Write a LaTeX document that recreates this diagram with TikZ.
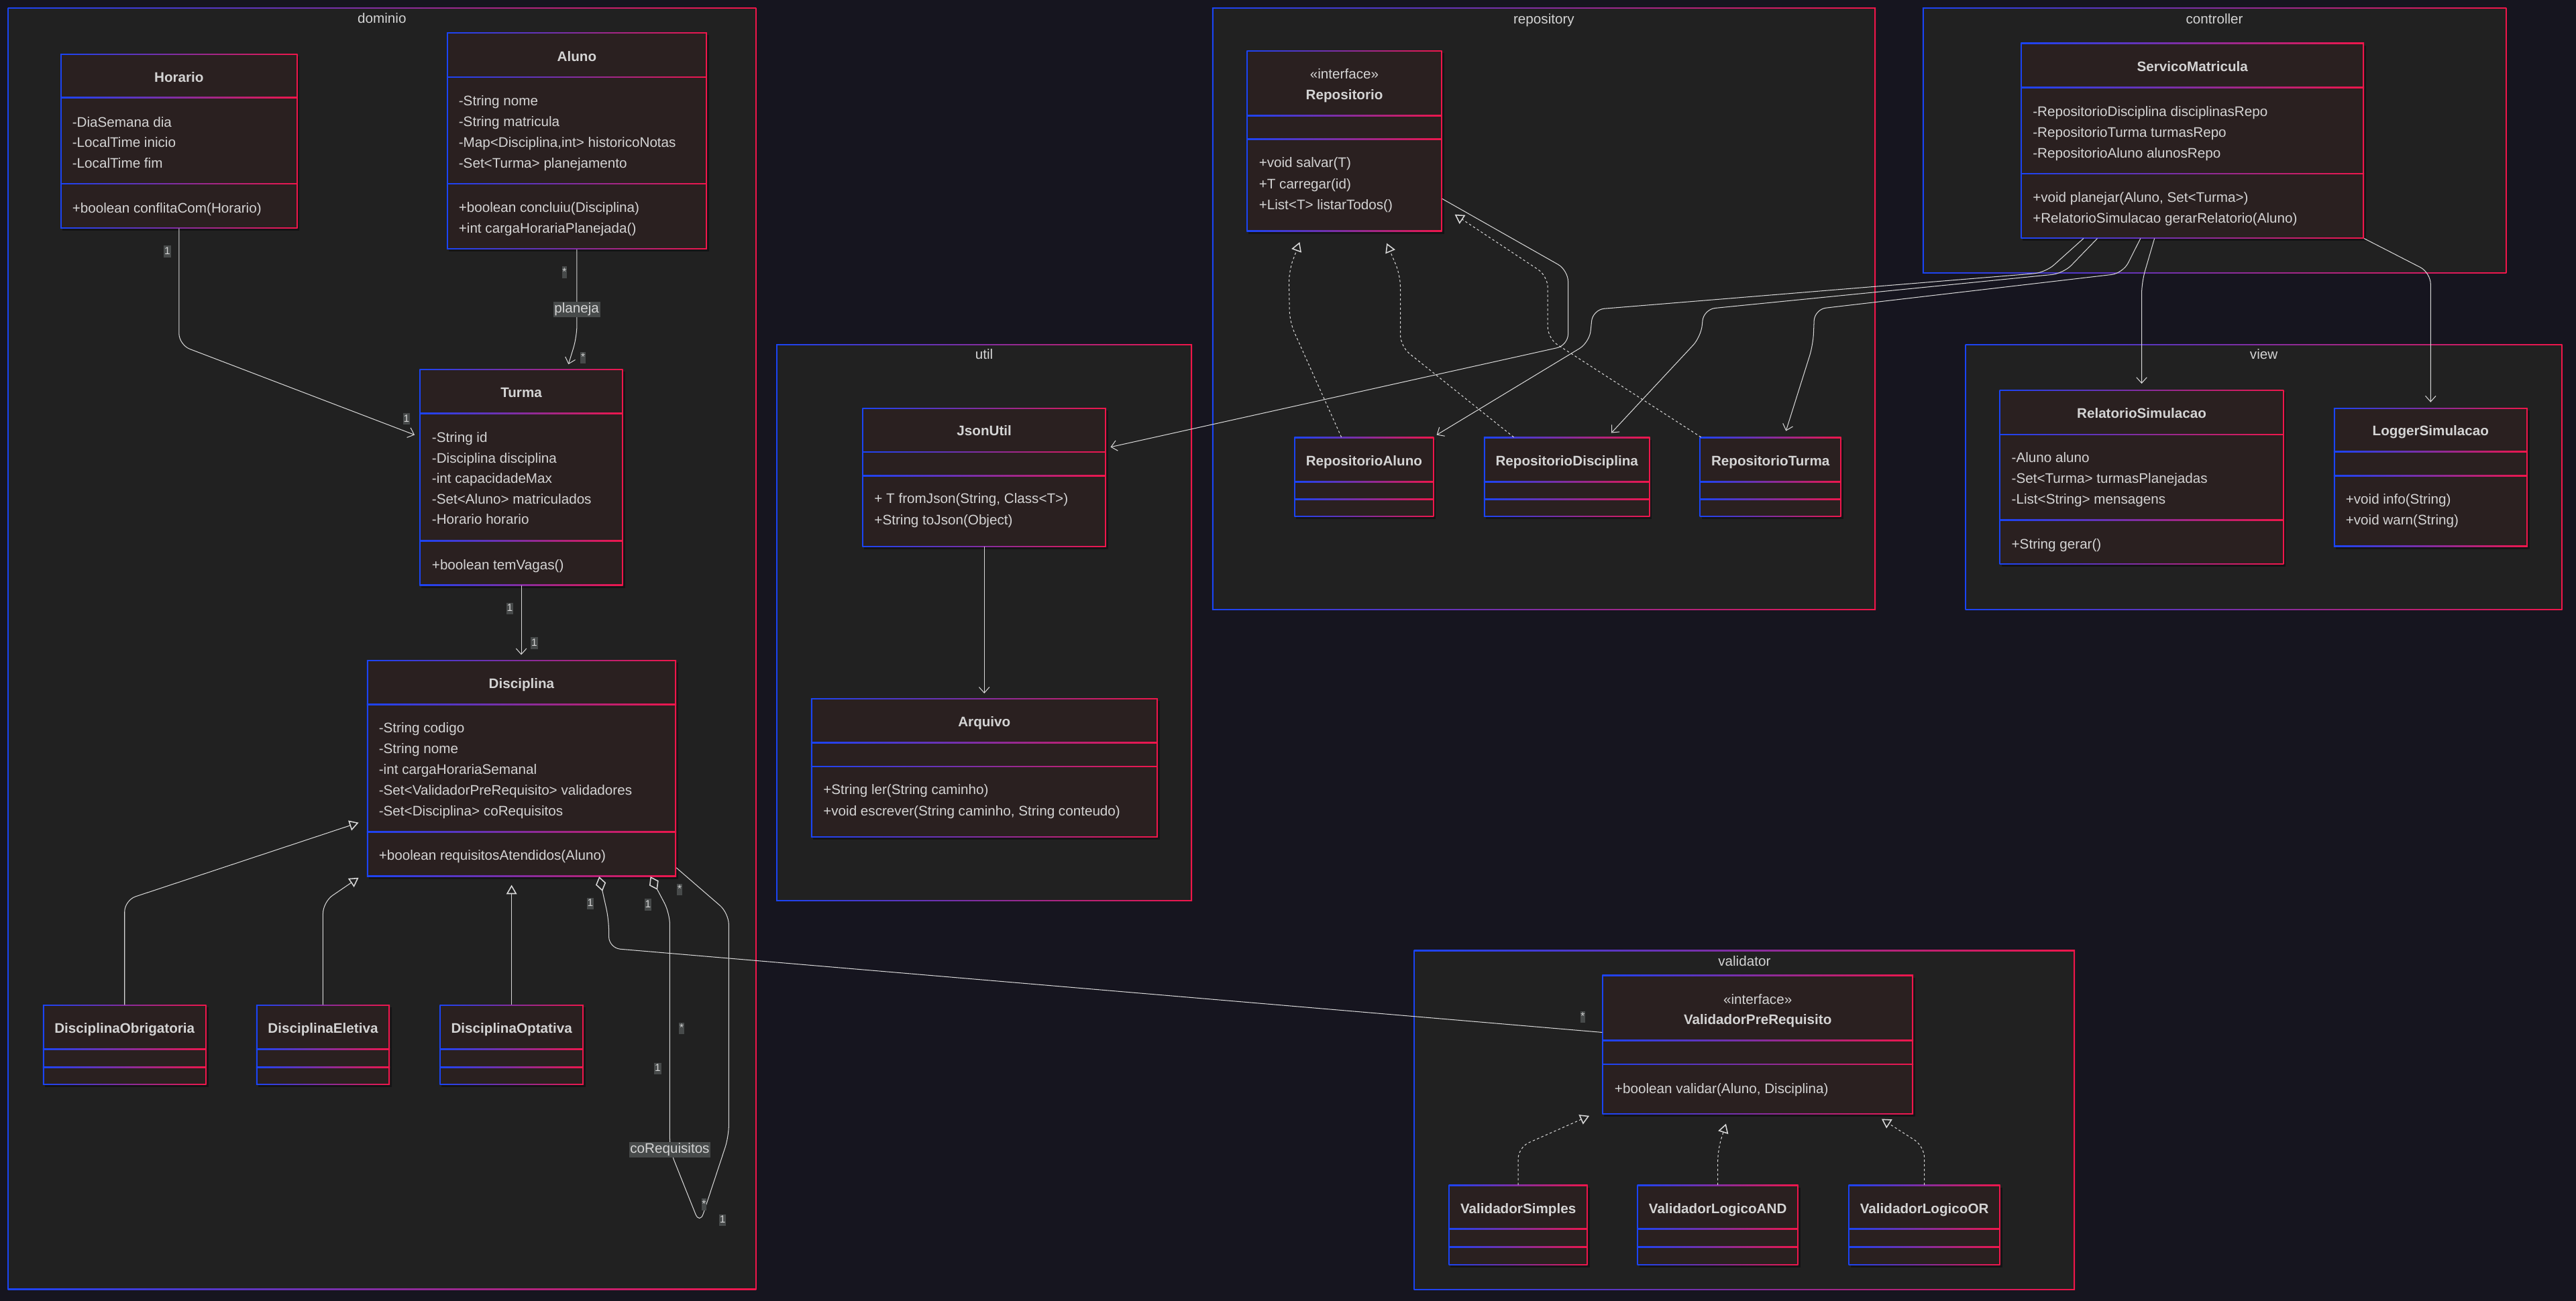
\documentclass[tikz,border=0pt]{standalone}
\usepackage{fontspec}
\setmainfont{Liberation Sans}
\usetikzlibrary{arrows.meta,calc,fit}

\definecolor{canvas}{HTML}{16151F}
\definecolor{pkgfill}{HTML}{212121}
\definecolor{boxfill}{HTML}{2A2020}
\definecolor{gblue}{HTML}{1A44F5}
\definecolor{gred}{HTML}{F0164A}
\definecolor{ink}{HTML}{D4D4D4}
\definecolor{wire}{HTML}{D8D8D8}
\definecolor{tagbg}{HTML}{474A4A}

% border width in picture units
\newcommand\bw{0.7}

% frame whose border runs from blue (left) to red (right)
\newcommand\gradframe[5]{%
  \shade[left color=gblue,right color=gred] (#2,#3) rectangle (#4,#5);
  \fill[#1] ({#2+\bw},{#3+\bw}) rectangle ({#4-\bw},{#5-\bw});}

% class box: name, x1, y1, x2, y2, compartment separators
\newcommand\umlclass[6]{%
  \node[fit={(#2,#3) (#4,#5)}, inner sep=0pt, outer sep=0pt] (#1) {};
  \fill[black!60!canvas, opacity=0.5] ({#2+1.2},{#3+1.5}) rectangle ({#4+1.2},{#5+1.5});
  \gradframe{boxfill}{#2}{#3}{#4}{#5}
  \foreach \s in {#6} {\shade[left color=gblue,right color=gred] (#2,\s-0.35) rectangle (#4,\s+0.35);}}

% package frame: name, x1, y1, x2, y2, label baseline, label
\newcommand\umlpkg[7]{%
  \node[fit={(#2,#3) (#4,#5)}, inner sep=0pt, outer sep=0pt] (#1) {};
  \gradframe{pkgfill}{#2}{#3}{#4}{#5}
  \node[pkglabel] (#1-label) at (#1.north |- 0,#6) {#7};}

% member lines: name prefix, x, first line centre, line step, lines
\newcommand\memberlist[5]{%
  \foreach \m [count=\i] in {#5} {\node[member] (#1\i) at (#2,{#3+3+(\i-1)*#4}) {\m};}}

\begin{document}
\begin{tikzpicture}[x=0.05cm,y=-0.05cm,
  member/.style={anchor=base west, inner sep=0pt, text=ink, font=\fontsize{12}{14}\selectfont},
  ctitle/.style={anchor=base, inner sep=0pt, text=ink, font=\fontsize{12}{14}\selectfont\bfseries},
  stereo/.style={anchor=base, inner sep=0pt, text=ink, font=\fontsize{12}{14}\selectfont},
  pkglabel/.style={anchor=base, inner sep=0pt, text=ink, font=\fontsize{12}{14}\selectfont},
  wire/.style={draw=wire, line width=0.6pt, rounded corners=0.35cm},
  assoc/.style={wire, -{Straight Barb[length=5pt,width=9pt]}},
  inherit/.style={wire, -{Triangle[length=8pt,width=9pt,fill=pkgfill,line width=0.9pt]}},
  realize/.style={inherit, dash pattern=on 2pt off 2pt},
  aggr/.style={wire, {Diamond[length=13pt,width=9pt,fill=pkgfill,line width=0.9pt]}-},
  mult/.style={fill=tagbg, text=ink, inner sep=0.5pt, text height=7pt, text depth=2pt, font=\fontsize{9}{10}\selectfont},
  role/.style={fill=tagbg, text=ink, inner sep=1pt, font=\fontsize{12}{14}\selectfont}]

\fill[canvas] (0,0) rectangle (1568,792);
\useasboundingbox (0,0) rectangle (1568,792);

% ---------------- packages ----------------
\umlpkg{dominio}{4.7}{4.8}{460.3}{785.3}{14}{dominio}
\umlpkg{util}{472.5}{209.6}{725.6}{548.6}{218.7}{util}
\umlpkg{repository}{737.8}{4.8}{1141.7}{371.4}{14.3}{repository}
\umlpkg{controller}{1170.2}{4.8}{1525.7}{166.5}{14.3}{controller}
\umlpkg{view}{1196.2}{209.7}{1559.7}{371.4}{218.7}{view}
\umlpkg{validatorpkg}{860.6}{578.6}{1263}{785.4}{588.3}{validator}

% ---------------- dominio ----------------
\umlclass{horario}{36.8}{32.7}{181.1}{139.1}{59.5,111.9}
\node[ctitle] (horario-t) at (horario.north |- 0,50) {Horario};
\memberlist{horario-a}{43.9}{74.2}{12.55}{-DiaSemana dia,-LocalTime inicio,-LocalTime fim}
\memberlist{horario-m}{43.9}{126.6}{12.6}{+boolean conflitaCom(Horario)}

\umlclass{aluno}{272}{19.9}{430.3}{151.8}{47,111.9}
\node[ctitle] (aluno-t) at (aluno.north |- 0,37.4) {Aluno};
\memberlist{aluno-a}{279.1}{61.5}{12.63}{-String nome,-String matricula,{-Map<Disciplina,int> historicoNotas},-Set<Turma> planejamento}
\memberlist{aluno-m}{279.1}{126.3}{12.5}{+boolean concluiu(Disciplina),+int cargaHorariaPlanejada()}

\umlclass{turma}{255.4}{224.6}{379.2}{356.5}{251.6,329.3}
\node[ctitle] (turma-t) at (turma.north |- 0,242) {Turma};
\memberlist{turma-a}{262.8}{266.3}{12.5}{-String id,-Disciplina disciplina,-int capacidadeMax,-Set<Aluno> matriculados,-Horario horario}
\memberlist{turma-m}{262.8}{343.7}{12.5}{+boolean temVagas()}

\umlclass{disc}{223.3}{402}{411.6}{533.7}{428.9,506.5}
\node[ctitle] (disc-t) at (disc.north |- 0,419.2) {Disciplina};
\memberlist{disc-a}{230.5}{443.1}{12.65}{-String codigo,-String nome,-int cargaHorariaSemanal,-Set<ValidadorPreRequisito> validadores,-Set<Disciplina> coRequisitos}
\memberlist{disc-m}{230.5}{520.7}{12.6}{+boolean requisitosAtendidos(Aluno)}

\umlclass{dobrig}{26.1}{611.8}{125.6}{660.5}{638.9,649.9}
\node[ctitle] (dobrig-t) at (dobrig.north |- 0,629.2) {DisciplinaObrigatoria};
\umlclass{delet}{155.9}{611.8}{237.3}{660.5}{638.9,649.9}
\node[ctitle] (delet-t) at (delet.north |- 0,629.2) {DisciplinaEletiva};
\umlclass{dopt}{267.6}{611.8}{355.2}{660.5}{638.9,649.9}
\node[ctitle] (dopt-t) at (dopt.north |- 0,629.2) {DisciplinaOptativa};

% ---------------- util ----------------
\umlclass{jsonutil}{524.9}{248.3}{673.3}{332.9}{275.2,289.8}
\node[ctitle] (jsonutil-t) at (jsonutil.north |- 0,265.3) {JsonUtil};
\memberlist{jsonutil-m}{532.1}{303.6}{12.9}{{+ T fromJson(String, Class<T>)},+String toJson(Object)}

\umlclass{arquivo}{493.6}{425.2}{704.7}{509.9}{452.2,466.7}
\node[ctitle] (arquivo-t) at (arquivo.north |- 0,442.3) {Arquivo};
\memberlist{arquivo-m}{501}{480.8}{12.9}{+String ler(String caminho),{+void escrever(String caminho, String conteudo)}}

% ---------------- repository ----------------
\umlclass{repo}{758.8}{30.7}{877.8}{140.9}{70.4,84.8}
\node[stereo] (repo-s) at (repo.north |- 0,47.8) {«interface»};
\node[ctitle] (repo-t) at (repo.north |- 0,60.5) {Repositorio};
\memberlist{repo-m}{766.2}{99}{12.8}{+void salvar(T),+T carregar(id),+List<T> listarTodos()}

\umlclass{repaluno}{787.8}{266.2}{872.8}{314.6}{293.3,304.1}
\node[ctitle] (repaluno-t) at (repaluno.north |- 0,283.6) {RepositorioAluno};
\umlclass{repdisc}{903.2}{266.2}{1004.3}{314.6}{293.3,304.1}
\node[ctitle] (repdisc-t) at (repdisc.north |- 0,283.6) {RepositorioDisciplina};
\umlclass{repturma}{1034.6}{266.2}{1120.7}{314.6}{293.3,304.1}
\node[ctitle] (repturma-t) at (repturma.north |- 0,283.6) {RepositorioTurma};

% ---------------- controller ----------------
\umlclass{servico}{1230}{26.1}{1439}{145.2}{53.2,105.7}
\node[ctitle] (servico-t) at (servico.north |- 0,43.3) {ServicoMatricula};
\memberlist{servico-a}{1237.2}{67.8}{12.7}{-RepositorioDisciplina disciplinasRepo,-RepositorioTurma turmasRepo,-RepositorioAluno alunosRepo}
\memberlist{servico-m}{1237.2}{120}{12.8}{{+void planejar(Aluno, Set<Turma>)},+RelatorioSimulacao gerarRelatorio(Aluno)}

% ---------------- view ----------------
\umlclass{relsim}{1217.1}{237.5}{1390.1}{343.6}{264.6,316.8}
\node[ctitle] (relsim-t) at (relsim.north |- 0,254.4) {RelatorioSimulacao};
\memberlist{relsim-a}{1224.3}{278.7}{12.55}{-Aluno aluno,-Set<Turma> turmasPlanejadas,-List<String> mensagens}
\memberlist{relsim-m}{1224.3}{331.2}{12.6}{+String gerar()}

\umlclass{logger}{1420.5}{248.5}{1538.5}{332.8}{275.1,289.7}
\node[ctitle] (logger-t) at (logger.north |- 0,265.4) {LoggerSimulacao};
\memberlist{logger-m}{1427.7}{303.8}{12.7}{+void info(String),+void warn(String)}

% ---------------- validator ----------------
\umlclass{validador}{975.2}{593.7}{1164.6}{678.5}{633.4,648}
\node[stereo] (validador-s) at (validador.north |- 0,611.5) {«interface»};
\node[ctitle] (validador-t) at (validador.north |- 0,623.9) {ValidadorPreRequisito};
\memberlist{validador-m}{982.7}{662.6}{12.6}{{+boolean validar(Aluno, Disciplina)}}

\umlclass{vsimples}{881.8}{721.5}{966.4}{770.2}{748.4,759.4}
\node[ctitle] (vsimples-t) at (vsimples.north |- 0,738.9) {ValidadorSimples};
\umlclass{vand}{996.6}{721.5}{1094.6}{770.2}{748.4,759.4}
\node[ctitle] (vand-t) at (vand.north |- 0,738.9) {ValidadorLogicoAND};
\umlclass{vor}{1125.2}{721.5}{1217.5}{770.2}{748.4,759.4}
\node[ctitle] (vor-t) at (vor.north |- 0,738.9) {ValidadorLogicoOR};

% ---------------- associations ----------------
\draw[assoc] (horario.south) -- (horario.south |- 0,210) -- ($(turma.west |- 0,264.8)+(-3,0)$);
\draw[assoc] (aluno.south) -- (aluno.south |- 0,205) -- ($(346,0 |- turma.north)+(0,-2.8)$);
\draw[assoc] (turma.south) -- ($(turma.south |- disc.north)+(0,-3.3)$);
\draw[assoc] (jsonutil.south) -- ($(jsonutil.south |- arquivo.north)+(0,-3)$);
\draw[assoc] (repo.east |- 0,121) -- (954.5,164.5) -- (954.5,210.3) -- ($(jsonutil.east |- 0,272.2)+(2.7,0)$);

\draw[assoc] (1268.2,0 |- servico.south) -- (1245,166) -- (969.5,188.5) -- (967.5,208.5) -- ($(874.5,0 |- repaluno.north)+(0,-1.4)$);
\draw[assoc] (1276.6,0 |- servico.south) -- (1256,166.5) -- (1037,188.3) -- (1035.4,205) -- ($(980.8,0 |- repdisc.north)+(0,-2.6)$);
\draw[assoc] (1302.9,0 |- servico.south) -- (1292.2,166.4) -- (1104.5,188.3) -- (1103.6,210) -- ($(1087.1,0 |- repturma.north)+(0,-3.8)$);
\draw[assoc] (1311.4,0 |- servico.south) -- (relsim.north |- 0,172) -- ($(relsim.north)+(0,-3.9)$);
\draw[assoc] (servico.south east) -- (logger.north |- 0,166) -- ($(logger.north)+(0,-3.6)$);

% ---------------- realizations ----------------
\draw[realize] (816.5,0 |- repaluno.north) -- (785,196) -- (784.5,165) -- ($(791.1,0 |- repo.south)+(0,6.5)$);
\draw[realize] (921.4,0 |- repdisc.north) -- (852.4,210.9) -- (852.4,167.7) -- ($(844.1,0 |- repo.south)+(0,7.2)$);
\draw[realize] (1035.4,0 |- repturma.north) -- (942.1,206.1) -- (942.1,168) -- ($(repo.east |- 0,130.6)+(7.7,0)$);

\draw[realize] (vsimples.north) -- (vsimples.north |- 0,698.6) -- ($(967.4,0 |- validador.south)+(0,0.9)$);
\draw[realize] (vand.north) -- (vand.north |- 0,700) -- ($(1050.6,0 |- validador.south)+(0,5.7)$);
\draw[realize] (vor.north) -- (vor.north |- 0,698) -- ($(1145.3,0 |- validador.south)+(0,2.8)$);

% ---------------- generalizations ----------------
\draw[inherit] (dobrig.north) -- (dobrig.north |- 0,548.1) -- ($(disc.west |- 0,500.9)+(-5,0)$);
\draw[inherit] (delet.north) -- (delet.north |- 0,549.2) -- ($(disc.south west)+(-5,0.7)$);
\draw[inherit] (dopt.north) -- ($(dopt.north |- disc.south)+(0,5.1)$);

% ---------------- aggregations ----------------
\draw[aggr] (364.7,0 |- disc.south) -- (370.6,560) -- (370.6,577.3) -- (validador.west |- 0,628.6);
\draw[aggr] (395.9,0 |- disc.south) -- (407.7,556) -- (407.7,700) -- (425.9,745.6) -- (443.6,692) -- (443.6,556) -- (disc.east |- 0,528.3);

% ---------------- labels ----------------
\node[role] (planeja) at (351,188.4) {planeja};
\node[role] (corequisitos) at (407.7,700.1) {coRequisitos};

\node[mult] (m1) at (101.9,153.1) {1};
\node[mult] (m2) at (247.4,255.1) {1};
\node[mult] (m3) at (343.6,165.8) {*};
\node[mult] (m4) at (354.9,217.9) {*};
\node[mult] (m5) at (310.3,370.6) {1};
\node[mult] (m6) at (325.2,391.6) {1};
\node[mult] (m7) at (359.3,550.3) {1};
\node[mult] (m8) at (963.4,619.2) {*};
\node[mult] (m9) at (394.4,550.8) {1};
\node[mult] (m10) at (413.7,541.7) {*};
\node[mult] (m11) at (414.9,626.2) {*};
\node[mult] (m12) at (400.3,650.7) {1};
\node[mult] (m13) at (428.5,733.4) {*};
\node[mult] (m14) at (439.8,742.9) {1};

\end{tikzpicture}
\end{document}
